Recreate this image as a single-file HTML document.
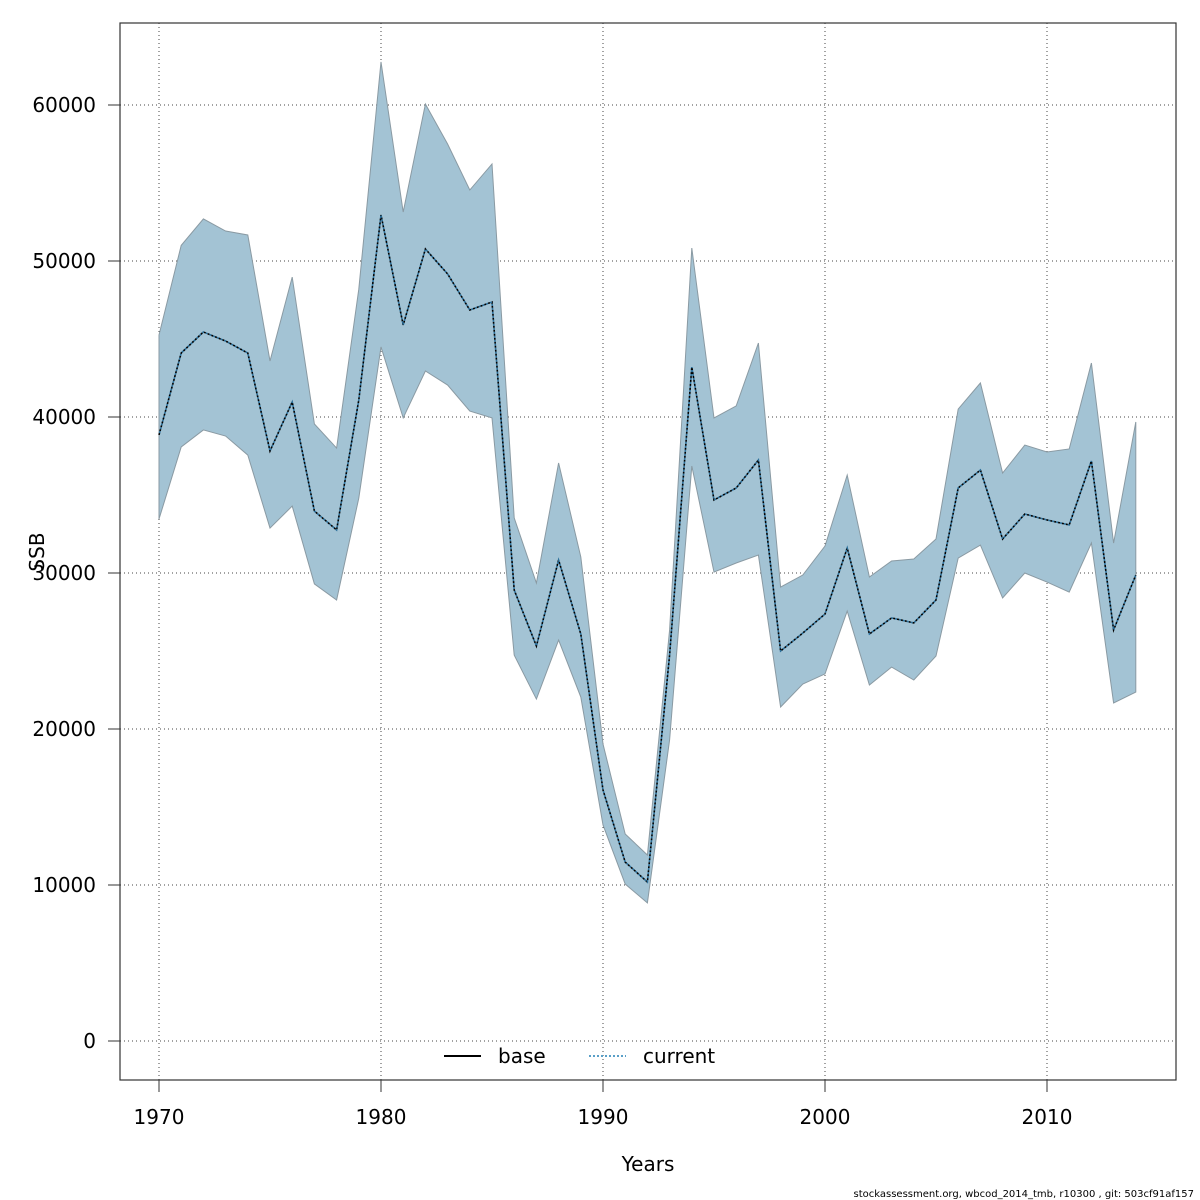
<!DOCTYPE html>
<html><head><meta charset="utf-8"><style>
html,body{margin:0;padding:0;background:#fff;}
svg{display:block;font-family:"DejaVu Sans","Liberation Sans",sans-serif;}
</style></head><body>
<svg id="chart" width="1200" height="1200" viewBox="0 0 1200 1200">
<g id="grid"></g>
<g id="band"></g>
<g id="lines"></g>
<rect x="120" y="23" width="1056" height="1057" fill="none" stroke="#333" stroke-width="1.2"/>
<g id="axes"></g>
<text x="648" y="1171" font-size="20" text-anchor="middle">Years</text>
<text x="44" y="552" font-size="20" text-anchor="middle" transform="rotate(-90 44 552)">SSB</text>
<g>
<line x1="444" y1="1056" x2="481" y2="1056" stroke="#000" stroke-width="2"/>
<text x="498" y="1063" font-size="20">base</text>
<line x1="589" y1="1056" x2="626" y2="1056" stroke="#5aa0c8" stroke-width="2" stroke-dasharray="2,2"/>
<text x="643" y="1063" font-size="20">current</text>
</g>
<text x="1194" y="1197" font-size="10" text-anchor="end">stockassessment.org, wbcod_2014_tmb, r10300 , git: 503cf91af157</text>
</svg>
<script>
const years=[1970,1971,1972,1973,1974,1975,1976,1977,1978,1979,1980,1981,1982,1983,1984,1985,1986,1987,1988,1989,1990,1991,1992,1993,1994,1995,1996,1997,1998,1999,2000,2001,2002,2003,2004,2005,2006,2007,2008,2009,2010,2011,2012,2013,2014];
const ssb=[38850,44100,45450,44870,44100,37820,40960,33970,32760,41090,52950,45900,50770,49170,46860,47370,28910,25320,30830,26090,16090,11470,10190,24740,43200,34680,35450,37240,25000,26150,27370,31600,26090,27120,26800,28270,35450,36600,32180,33780,33400,33080,37180,26350,29870];
const upper=[45260,51000,52700,51920,51670,43590,48970,39550,38010,48200,62760,53140,60060,57500,54550,56220,33530,29360,37050,31030,19040,13270,11920,26350,50830,39940,40710,44740,29100,29870,31730,36280,29740,30770,30900,32180,40510,42180,36410,38200,37760,37950,43460,31920,39680];
const lower=[33460,38080,39170,38780,37560,32880,34290,29300,28270,34800,44490,39940,42950,42050,40380,39940,24740,21920,25700,22050,13850,10060,8850,19300,36860,30060,30640,31150,21410,22880,23530,27560,22820,23970,23140,24680,30960,31790,28400,30000,29420,28780,31920,21670,22370];
const xTicks=[1970,1980,1990,2000,2010];
const yTicks=[0,10000,20000,30000,40000,50000,60000];
const NS="http://www.w3.org/2000/svg";
function xs(v){return 159+(v-1970)*22.2;}
function ys(v){return 1041-v*0.0156;}
function mk(tag,attrs,parent){const e=document.createElementNS(NS,tag);for(const k in attrs)e.setAttribute(k,attrs[k]);parent.appendChild(e);return e;}
const grid=document.getElementById('grid'),axes=document.getElementById('axes'),band=document.getElementById('band'),lines=document.getElementById('lines');
xTicks.forEach(t=>{
 const g=mk('line',{x1:xs(t),x2:xs(t),y1:23,y2:1080,stroke:'#444','stroke-width':1,'stroke-dasharray':'1,3'},grid);
 
 
 const tk=mk('line',{x1:xs(t),x2:xs(t),y1:1080,y2:1092,stroke:'#333'},axes);
 
 
 const tx=mk('text',{x:xs(t),y:1124,'font-size':20,'text-anchor':'middle'},axes);tx.textContent=t;
 
 
});
yTicks.forEach(t=>{
 const g=mk('line',{x1:120,x2:1176,y1:ys(t),y2:ys(t),stroke:'#444','stroke-width':1,'stroke-dasharray':'1,3'},grid);
 
 
 const tk=mk('line',{x1:108,x2:120,y1:ys(t),y2:ys(t),stroke:'#333'},axes);
 
 
 const tx=mk('text',{x:96,y:ys(t)+7,'font-size':20,'text-anchor':'end'},axes);tx.textContent=t;
 
 
});
let pts=years.map((y,i)=>xs(y)+','+ys(upper[i]));
for(let i=years.length-1;i>=0;i--)pts.push(xs(years[i])+','+ys(lower[i]));
const poly=mk('polygon',{points:pts.join(' '),fill:'#a3c3d4',stroke:'#8a9aa3','stroke-width':1},band);


const lp=years.map((y,i)=>xs(y)+','+ys(ssb[i])).join(' ');
const l1=mk('polyline',{points:lp,fill:'none',stroke:'#000','stroke-width':1.6,'stroke-dasharray':'2,2'},lines);


const l2=mk('polyline',{points:lp,fill:'none',stroke:'#2a6f9a','stroke-width':1.6,'stroke-dasharray':'2,2','stroke-dashoffset':2},lines);


</script>
</body></html>
